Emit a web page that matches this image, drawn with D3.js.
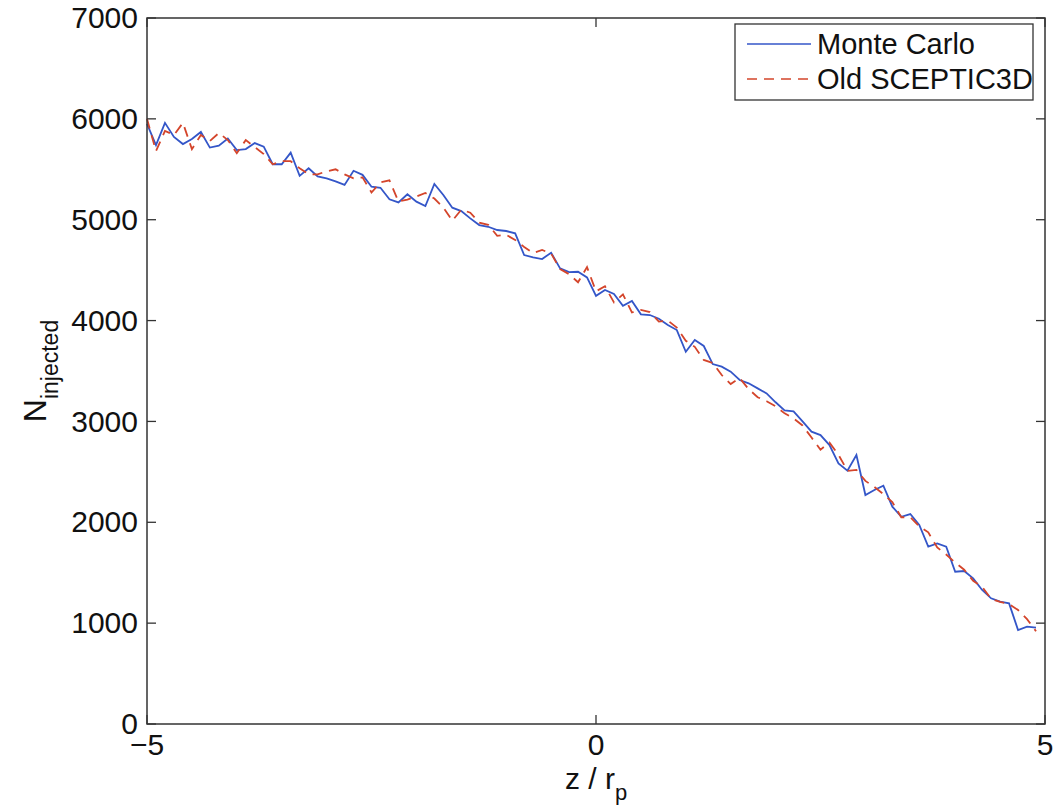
<!DOCTYPE html>
<html>
<head>
<meta charset="utf-8">
<script src="https://cdn.jsdelivr.net/npm/d3@7"></script>
<style>
    body { margin: 0; background: #fff; }
    #chart { width: 1060px; height: 806px; }
    text { font-family: "Liberation Sans", Arial, sans-serif; fill: #111; }
</style>
</head>
<body>
<div id="chart"></div>
<script>
// z / r_p sample grid, step 0.1 starting at -5
var zStart = -5, zStep = 0.1;

var monteCarlo = [
    5950, 5740, 5960, 5820, 5750, 5800, 5870, 5715, 5735, 5805,
    5690, 5700, 5760, 5725, 5550, 5550, 5665, 5435, 5510, 5430,
    5410, 5380, 5345, 5485, 5445, 5327, 5317, 5202, 5172, 5252,
    5179, 5136, 5354, 5245, 5119, 5086, 5013, 4947, 4930, 4898,
    4888, 4865, 4650, 4627, 4610, 4673, 4518, 4480, 4484, 4428,
    4245, 4303, 4263, 4147, 4194, 4062, 4055, 4018, 3956, 3906,
    3691, 3808, 3748, 3569, 3543, 3493, 3411, 3378, 3328, 3278,
    3190, 3110, 3100, 3000, 2899, 2865, 2766, 2584, 2511, 2667,
    2270, 2320, 2363, 2155, 2055, 2082, 1973, 1758, 1791, 1758,
    1510, 1517, 1444, 1329, 1246, 1213, 1196, 932, 965, 955
];

var oldSceptic = [
    6000, 5680, 5880, 5840, 5960, 5700, 5840, 5780, 5860, 5790,
    5660, 5790, 5720, 5650, 5550, 5580, 5580, 5510, 5450, 5450,
    5480, 5500, 5450, 5410, 5420, 5270, 5370, 5390, 5180, 5200,
    5230, 5265, 5210, 5120, 4990, 5100, 5070, 4970, 4950, 4840,
    4850, 4800, 4730, 4670, 4700, 4665, 4510, 4460, 4380, 4530,
    4290, 4340, 4180, 4260, 4080, 4105, 4085, 3990, 4000, 3930,
    3800, 3740, 3610, 3580, 3460, 3370, 3430, 3320, 3240, 3200,
    3150, 3080, 3030, 2960, 2840, 2720, 2790, 2670, 2510, 2520,
    2410, 2350, 2280, 2200, 2050, 2050, 1960, 1900, 1750, 1680,
    1600, 1530, 1420, 1360, 1240, 1210, 1190, 1130, 1040, 920
];

var xTicks = [-5, 0, 5];
var yTicks = [0, 1000, 2000, 3000, 4000, 5000, 6000, 7000];
var seriesNames = ["Monte Carlo", "Old SCEPTIC3D"];

function init() {
    var margin = { top: 18, right: 15, bottom: 82, left: 147 },
        width = 1060 - margin.left - margin.right,
        height = 806 - margin.top - margin.bottom;

    var svg = d3.select("#chart")
        .append("svg")
        .attr("width", 1060)
        .attr("height", 806);

    var g = svg.append("g")
        .attr("transform", "translate(" + margin.left + "," + margin.top + ")");

    var x = d3.scaleLinear().domain([-5, 5]).range([0, width]);
    var y = d3.scaleLinear().domain([0, 7000]).range([height, 0]);

    var tickLen = 9;

    // tick marks pointing inward on all four sides
    var axisColor = "#333";
    var ticks = g.append("g").attr("stroke", axisColor).attr("stroke-width", 1.3);
    yTicks.forEach(function (t) {
        ticks.append("line").attr("x1", 0).attr("x2", tickLen).attr("y1", y(t)).attr("y2", y(t));
        ticks.append("line").attr("x1", width).attr("x2", width - tickLen).attr("y1", y(t)).attr("y2", y(t));
    });
    xTicks.forEach(function (t) {
        ticks.append("line").attr("x1", x(t)).attr("x2", x(t)).attr("y1", height).attr("y2", height - tickLen);
        ticks.append("line").attr("x1", x(t)).attr("x2", x(t)).attr("y1", 0).attr("y2", tickLen);
    });

    g.selectAll(".ylab")
        .data(yTicks)
        .enter()
        .append("text")
        .attr("class", "ylab")
        .attr("x", -9)
        .attr("y", function (d) { return y(d); })
        .attr("dy", "0.34em")
        .attr("text-anchor", "end")
        .style("font-size", "30px")
        .text(function (d) { return d; });

    g.selectAll(".xlab")
        .data(xTicks)
        .enter()
        .append("text")
        .attr("class", "xlab")
        .attr("x", function (d) { return x(d); })
        .attr("y", height + 31)
        .attr("text-anchor", "middle")
        .style("font-size", "30px")
        .text(function (d) { return d < 0 ? "\u2212" + Math.abs(d) : d; });

    var line = d3.line()
        .x(function (d, i) { return x(zStart + i * zStep); })
        .y(function (d) { return y(d); });

    g.append("path")
        .datum(monteCarlo)
        .attr("fill", "none")
        .attr("stroke", "#3456c8")
        .attr("stroke-width", 1.8)
        .attr("d", line);

    g.append("path")
        .datum(oldSceptic)
        .attr("fill", "none")
        .attr("stroke", "#d4452b")
        .attr("stroke-width", 1.8)
        .attr("stroke-dasharray", "10,7")
        .attr("d", line);

    // axes box
    g.append("rect")
        .attr("width", width)
        .attr("height", height)
        .attr("fill", "none")
        .attr("stroke", axisColor)
        .attr("stroke-width", 1.5);

    // legend
    var legend = g.append("g").attr("transform", "translate(" + (735 - margin.left) + "," + (24 - margin.top) + ")");
    legend.append("rect")
        .attr("width", 298)
        .attr("height", 76)
        .attr("fill", "#fff")
        .attr("stroke", axisColor)
        .attr("stroke-width", 1.3);
    var legendStyles = [
        { color: "#3456c8", dash: null },
        { color: "#d4452b", dash: "10,7" }
    ];
    seriesNames.forEach(function (name, i) {
        var ly = 20 + i * 35;
        legend.append("line")
            .attr("x1", 12).attr("x2", 76)
            .attr("y1", ly).attr("y2", ly)
            .attr("stroke", legendStyles[i].color)
            .attr("stroke-width", 1.5)
            .attr("stroke-dasharray", legendStyles[i].dash);
        legend.append("text")
            .attr("x", 82)
            .attr("y", ly)
            .attr("dy", "0.36em")
            .style("font-size", "29px")
            .text(name);
    });

    // axis titles
    var xt = svg.append("text")
        .attr("x", margin.left + width / 2)
        .attr("y", 789)
        .attr("text-anchor", "middle")
        .style("font-size", "30px");
    xt.append("tspan").text("z / r");
    xt.append("tspan").attr("dy", 11).style("font-size", "22px").text("p");

    var yt = svg.append("text")
        .attr("transform", "translate(46," + (margin.top + height / 2) + ") rotate(-90)")
        .attr("text-anchor", "middle")
        .style("font-size", "32px");
    yt.append("tspan").text("N");
    yt.append("tspan").attr("dy", 12).style("font-size", "23px").text("injected");
}

window.onload = init;
</script>
</body>
</html>
